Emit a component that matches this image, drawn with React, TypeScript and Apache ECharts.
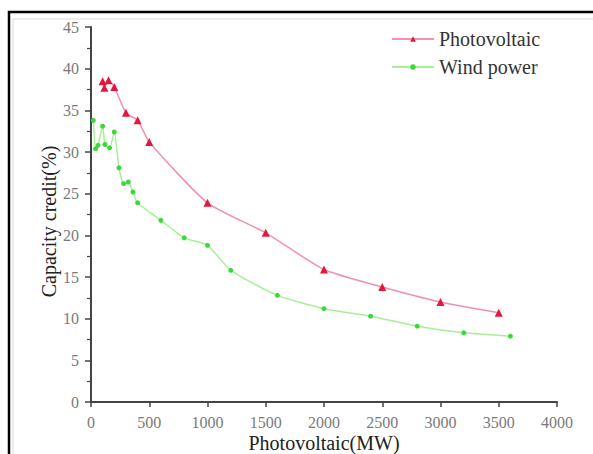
import React, { useEffect, useRef } from "react";
import * as echarts from "echarts";

const pvX = [100, 115, 150, 200, 300, 400, 500, 1000, 1500, 2000, 2500, 3000, 3500];
const pvY = [38.5, 37.7, 38.6, 37.8, 34.7, 33.8, 31.2, 23.9, 20.3, 15.9, 13.8, 12.0, 10.7];

const windX = [20, 40, 60, 100, 120, 160, 200, 240, 280, 320, 360, 400, 600, 800, 1000, 1200, 1600, 2000, 2400, 2800, 3200, 3600];
const windY = [33.8, 30.4, 30.8, 33.1, 30.9, 30.5, 32.4, 28.1, 26.2, 26.4, 25.2, 23.9, 21.8, 19.7, 18.8, 15.8, 12.8, 11.2, 10.3, 9.1, 8.3, 7.9];

const seriesNames = ["Photovoltaic", "Wind power"];
const xAxisName = "Photovoltaic(MW)";
const yAxisName = "Capacity credit(%)";

const FONT = "'Liberation Serif', 'Times New Roman', serif";

export default function App() {
  const ref = useRef<HTMLDivElement>(null);
  useEffect(() => {
    if (!ref.current) return;
    const chart = echarts.init(ref.current, undefined, { renderer: "svg" });
    const axisColor = "#444";
    chart.setOption({
      animation: false,
      backgroundColor: "#fff",
      textStyle: { fontFamily: FONT },
      grid: { left: 91, right: 36, top: 27, bottom: 52, containLabel: false, outerBoundsMode: "none" },
      legend: {
        orient: "vertical",
        left: 386,
        top: 24,
        itemWidth: 42,
        itemHeight: 7,
        itemGap: 8,
        textStyle: { fontFamily: FONT, fontSize: 20, color: "#333" },
        data: seriesNames,
      },
      graphic: [
        {
          type: "rect",
          shape: { x: 9, y: 12, width: 620, height: 520 },
          style: { fill: "none", stroke: "#000", lineWidth: 2.5 },
          silent: true,
        },
        {
          type: "rect",
          shape: { x: 13, y: 19, width: 620, height: 520 },
          style: { fill: "none", stroke: "#e6e6e6", lineWidth: 1.5 },
          silent: true,
        },
      ],
      xAxis: {
        type: "value",
        min: 0,
        max: 4000,
        interval: 500,
        name: xAxisName,
        nameLocation: "middle",
        nameGap: 31,
        nameMoveOverlap: false,
        nameTextStyle: { fontFamily: FONT, fontSize: 20, color: "#222" },
        axisLine: { show: true, lineStyle: { color: axisColor, width: 2 } },
        axisTick: { show: true, length: 5, lineStyle: { color: axisColor, width: 1.5 } },
        axisLabel: {
          fontFamily: FONT,
          fontSize: 16,
          color: "#7a7a7a",
          margin: 12,
          formatter: (v: number) => String(v),
        },
        splitLine: { show: false },
      },
      yAxis: {
        type: "value",
        min: 0,
        max: 45,
        interval: 5,
        name: yAxisName,
        nameLocation: "middle",
        nameGap: 32,
        nameMoveOverlap: false,
        nameTextStyle: { fontFamily: FONT, fontSize: 20, color: "#222", padding: [0, 14, 0, 0] },
        axisLine: { show: true, lineStyle: { color: axisColor, width: 2 } },
        axisTick: { show: true, length: 6, lineStyle: { color: axisColor, width: 1.5 } },
        minorTick: { show: true, splitNumber: 2, length: 4, lineStyle: { color: axisColor, width: 1.2 } },
        axisLabel: {
          fontFamily: FONT,
          fontSize: 16,
          color: "#7a7a7a",
          margin: 12,
          formatter: (v: number) => String(v),
        },
        splitLine: { show: false },
      },
      series: [
        {
          name: seriesNames[0],
          type: "line",
          data: pvX.map((x, i) => [x, pvY[i]]),
          smooth: 0.2,
          symbol: "triangle",
          symbolSize: 8,
          lineStyle: { color: "#f290ad", width: 1.5 },
          itemStyle: { color: "#e3173e" },
        },
        {
          name: seriesNames[1],
          type: "line",
          data: windX.map((x, i) => [x, windY[i]]),
          smooth: 0.2,
          symbol: "circle",
          symbolSize: 5,
          lineStyle: { color: "#a6f095", width: 1.5 },
          itemStyle: { color: "#3ad83a" },
        },
      ],
    });
    return () => chart.dispose();
  }, []);
  return (
    <div
      ref={ref}
      style={{ position: "fixed", left: 0, top: 0, width: 593, height: 454 }}
    />
  );
}
